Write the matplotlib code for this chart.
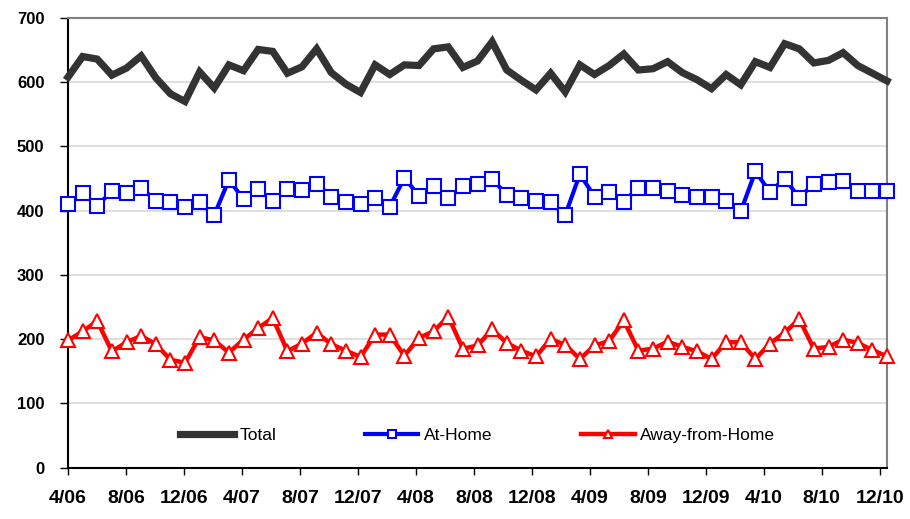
import matplotlib
matplotlib.use("Agg")
import matplotlib.pyplot as plt
import numpy as np

plt.rcParams['font.family'] = ['Liberation Sans', 'DejaVu Sans']

tick_labels = ["4/06", "8/06", "12/06", "4/07", "8/07", "12/07", "4/08", "8/08",
               "12/08", "4/09", "8/09", "12/09", "4/10", "8/10", "12/10"]

total = [608, 640, 636, 611, 622, 641, 607, 582, 570, 616,
         591, 627, 618, 651, 648, 614, 624, 652, 615, 597,
         584, 627, 612, 627, 626, 652, 655, 623, 633, 663,
         619, 603, 588, 614, 585, 627, 612, 626, 644, 619,
         621, 632, 615, 604, 590, 612, 596, 632, 623, 660,
         652, 630, 634, 646, 626, 614, 602]

at_home = [411, 427, 408, 430, 428, 436, 415, 413, 406, 413,
           393, 448, 418, 434, 415, 433, 432, 442, 422, 414,
           410, 420, 406, 451, 423, 439, 419, 438, 442, 449,
           425, 419, 415, 413, 393, 457, 422, 429, 414, 436,
           436, 431, 425, 422, 421, 415, 399, 461, 429, 450,
           420, 442, 445, 446, 431, 430, 430]

away = [198, 212, 228, 181, 195, 205, 192, 168, 163, 203,
        198, 179, 199, 217, 233, 181, 193, 210, 192, 182,
        172, 207, 207, 174, 202, 212, 235, 185, 190, 215,
        194, 182, 173, 200, 191, 169, 190, 197, 229, 182,
        185, 196, 188, 181, 169, 195, 195, 169, 193, 210,
        231, 185, 188, 199, 194, 183, 173]

x = np.arange(len(total))

fig = plt.figure(figsize=(9.1, 5.19), dpi=100)
ax = fig.add_axes([68/910, 1-467.5/519, (887-68)/910, (467.5-18)/519])

ax.plot(x, total, color='#333333', lw=5.2, solid_joinstyle='miter', label='Total',
        zorder=3, clip_on=False)
ax.plot(x, at_home, color='#0000FF', lw=3, marker='s', markersize=9.8,
        markerfacecolor='white', markeredgecolor='#0000FF', markeredgewidth=1.5,
        label='At-Home', zorder=4, clip_on=False)
ax.plot(x, away, color='#FF0000', lw=3.2, marker='^', markersize=10.5,
        markerfacecolor='white', markeredgecolor='#FF0000', markeredgewidth=1.5,
        label='Away-from-Home', zorder=5, clip_on=False)

ax.set_xlim(0, len(total) - 1)
ax.set_ylim(0, 700)
ax.set_yticks(np.arange(0, 701, 100))
ax.set_xticks(np.linspace(0, 55.5, len(tick_labels)))
ax.set_xticklabels(tick_labels)

ax.grid(axis='y', color='#D9D9D9', lw=1.2, zorder=0)
ax.set_axisbelow(True)

for s in ['left', 'bottom']:
    ax.spines[s].set_color('black')
    ax.spines[s].set_linewidth(1.5)
for s in ['top', 'right']:
    ax.spines[s].set_color('#808080')
    ax.spines[s].set_linewidth(1.5)

ax.tick_params(axis='x', direction='out', length=5, width=1, pad=11,
               labelsize=14)
ax.tick_params(axis='y', direction='out', length=6, width=1, pad=11,
               labelsize=12)
for lab in ax.get_xticklabels() + ax.get_yticklabels():
    lab.set_fontweight('bold')

leg = ax.legend(loc='center', bbox_to_anchor=(0.5, 0.072), ncol=3, frameon=False,
                fontsize=12.5, handlelength=3.1, handletextpad=0.3,
                columnspacing=5.1, markerscale=0.55)

fig.savefig('out.png', dpi=100)
